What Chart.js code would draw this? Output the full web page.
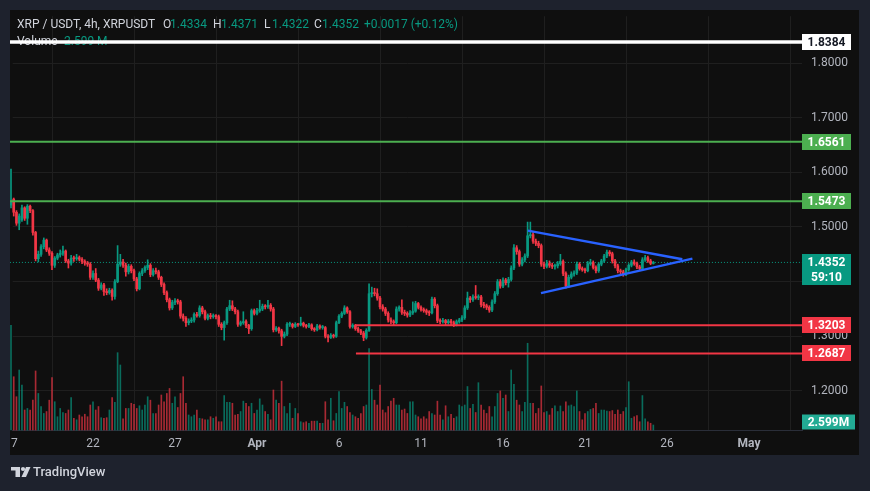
<!DOCTYPE html>
<html><head><meta charset="utf-8">
<script src="https://cdn.jsdelivr.net/npm/chart.js@4.4.1/dist/chart.umd.min.js"></script>
<style>html,body{margin:0;padding:0;background:#1e222d;overflow:hidden}canvas{display:block}</style>
</head><body><canvas id="c" width="870" height="491"></canvas>
<script>
// ---- data (XRP/USDT 4h candles, Mar 17 -> Apr 25) ----
const opens=[
1.540,1.551,1.527,1.507,1.513,1.535,1.516,1.538,1.530,1.490,
1.442,1.450,1.464,1.476,1.458,1.452,1.430,1.443,1.449,1.452,
1.456,1.438,1.434,1.443,1.442,1.444,1.441,1.437,1.434,1.432,
1.408,1.415,1.403,1.388,1.394,1.382,1.380,1.384,1.373,1.400,
1.432,1.436,1.430,1.418,1.428,1.420,1.405,1.387,1.415,1.420,
1.426,1.430,1.413,1.420,1.418,1.408,1.395,1.380,1.367,1.352,
1.362,1.365,1.363,1.337,1.333,1.325,1.328,1.330,1.340,1.338,
1.352,1.345,1.333,1.338,1.336,1.338,1.336,1.322,1.316,1.325,
1.350,1.356,1.350,1.345,1.322,1.325,1.327,1.320,1.314,1.347,
1.342,1.347,1.350,1.355,1.354,1.357,1.350,1.312,1.315,1.310,
1.300,1.304,1.322,1.322,1.318,1.322,1.321,1.324,1.320,1.318,
1.321,1.314,1.312,1.319,1.316,1.316,1.300,1.298,1.302,1.300,
1.325,1.337,1.342,1.352,1.345,1.318,1.320,1.314,1.310,1.306,
1.298,1.311,1.378,1.380,1.378,1.370,1.354,1.350,1.342,1.330,
1.327,1.325,1.350,1.353,1.344,1.342,1.339,1.343,1.346,1.360,
1.353,1.349,1.347,1.344,1.343,1.368,1.356,1.329,1.327,1.329,
1.325,1.328,1.325,1.322,1.327,1.330,1.334,1.352,1.370,1.367,
1.372,1.371,1.372,1.358,1.356,1.353,1.348,1.363,1.378,1.400,
1.392,1.403,1.398,1.404,1.425,1.462,1.455,1.432,1.440,1.447,
1.484,1.486,1.474,1.470,1.466,1.432,1.428,1.433,1.430,1.428,
1.429,1.433,1.437,1.415,1.392,1.408,1.414,1.416,1.432,1.424,
1.422,1.420,1.433,1.435,1.426,1.420,1.432,1.438,1.447,1.454,
1.451,1.438,1.429,1.420,1.418,1.414,1.422,1.430,1.436,1.433,
1.427,1.424,1.440,1.444,1.438,1.4334];
const highs=[
1.606,1.553,1.530,1.524,1.540,1.537,1.541,1.540,1.532,1.492,
1.456,1.468,1.480,1.478,1.462,1.455,1.446,1.452,1.458,1.465,
1.458,1.441,1.448,1.447,1.450,1.447,1.444,1.440,1.437,1.435,
1.420,1.424,1.406,1.398,1.397,1.387,1.388,1.387,1.404,1.466,
1.450,1.441,1.434,1.432,1.431,1.423,1.408,1.418,1.424,1.429,
1.440,1.433,1.424,1.425,1.421,1.410,1.398,1.383,1.370,1.366,
1.369,1.368,1.366,1.341,1.336,1.332,1.334,1.343,1.344,1.356,
1.355,1.348,1.341,1.342,1.341,1.340,1.339,1.325,1.328,1.353,
1.366,1.365,1.353,1.348,1.328,1.345,1.330,1.322,1.350,1.350,
1.351,1.366,1.359,1.358,1.366,1.360,1.353,1.318,1.317,1.313,
1.308,1.325,1.326,1.324,1.325,1.324,1.335,1.326,1.322,1.324,
1.323,1.316,1.322,1.321,1.320,1.318,1.303,1.305,1.304,1.328,
1.340,1.345,1.356,1.354,1.347,1.323,1.322,1.317,1.313,1.309,
1.314,1.396,1.390,1.388,1.387,1.373,1.358,1.353,1.345,1.334,
1.330,1.354,1.356,1.367,1.348,1.345,1.347,1.363,1.364,1.362,
1.356,1.352,1.350,1.347,1.372,1.371,1.359,1.332,1.333,1.331,
1.331,1.331,1.328,1.330,1.333,1.338,1.356,1.381,1.373,1.376,
1.393,1.376,1.375,1.362,1.359,1.356,1.367,1.382,1.404,1.404,
1.407,1.406,1.408,1.429,1.468,1.466,1.458,1.444,1.451,1.509,
1.509,1.490,1.478,1.474,1.469,1.436,1.439,1.438,1.434,1.432,
1.437,1.450,1.440,1.418,1.412,1.418,1.420,1.436,1.435,1.427,
1.425,1.437,1.441,1.438,1.429,1.435,1.441,1.450,1.458,1.457,
1.454,1.441,1.432,1.423,1.421,1.425,1.433,1.439,1.440,1.436,
1.430,1.444,1.448,1.447,1.441,1.4371];
const lows=[
1.535,1.520,1.503,1.495,1.510,1.512,1.505,1.526,1.485,1.438,
1.436,1.446,1.460,1.455,1.448,1.422,1.426,1.440,1.445,1.448,
1.435,1.425,1.430,1.437,1.439,1.438,1.433,1.430,1.428,1.404,
1.404,1.400,1.384,1.385,1.375,1.376,1.377,1.366,1.368,1.398,
1.428,1.426,1.410,1.414,1.416,1.402,1.383,1.385,1.411,1.417,
1.422,1.409,1.410,1.414,1.404,1.391,1.376,1.363,1.348,1.349,
1.358,1.359,1.333,1.328,1.318,1.321,1.325,1.326,1.335,1.335,
1.341,1.330,1.330,1.332,1.333,1.332,1.318,1.312,1.293,1.322,
1.347,1.347,1.341,1.318,1.319,1.322,1.316,1.305,1.311,1.339,
1.339,1.344,1.347,1.350,1.351,1.346,1.308,1.309,1.306,1.283,
1.297,1.301,1.318,1.315,1.316,1.318,1.319,1.317,1.315,1.316,
1.311,1.309,1.310,1.313,1.313,1.297,1.290,1.296,1.297,1.298,
1.323,1.334,1.340,1.342,1.315,1.315,1.311,1.307,1.303,1.292,
1.295,1.309,1.372,1.374,1.366,1.350,1.346,1.338,1.326,1.323,
1.321,1.323,1.346,1.340,1.338,1.335,1.336,1.340,1.344,1.350,
1.346,1.344,1.340,1.338,1.341,1.352,1.325,1.323,1.324,1.321,
1.322,1.321,1.318,1.319,1.324,1.327,1.331,1.349,1.362,1.364,
1.368,1.367,1.354,1.352,1.349,1.344,1.345,1.360,1.375,1.388,
1.389,1.394,1.390,1.401,1.422,1.450,1.428,1.429,1.436,1.444,
1.480,1.470,1.466,1.462,1.428,1.424,1.425,1.426,1.424,1.423,
1.425,1.430,1.411,1.388,1.389,1.405,1.410,1.413,1.421,1.419,
1.416,1.418,1.430,1.423,1.416,1.417,1.429,1.435,1.444,1.447,
1.434,1.425,1.416,1.414,1.410,1.411,1.419,1.427,1.430,1.424,
1.421,1.421,1.437,1.435,1.431,1.4322];
const closes=[
1.547,1.527,1.507,1.520,1.535,1.516,1.538,1.530,1.490,1.442,
1.450,1.464,1.476,1.458,1.452,1.430,1.443,1.449,1.452,1.456,
1.438,1.434,1.443,1.442,1.444,1.441,1.437,1.434,1.432,1.408,
1.415,1.403,1.388,1.394,1.382,1.380,1.384,1.373,1.400,1.432,
1.436,1.430,1.418,1.428,1.420,1.405,1.387,1.415,1.420,1.426,
1.430,1.413,1.420,1.418,1.408,1.395,1.380,1.367,1.352,1.362,
1.365,1.363,1.337,1.333,1.325,1.328,1.330,1.340,1.338,1.352,
1.345,1.333,1.338,1.336,1.338,1.336,1.322,1.316,1.325,1.350,
1.356,1.350,1.345,1.322,1.325,1.327,1.320,1.314,1.347,1.342,
1.347,1.350,1.355,1.354,1.357,1.350,1.312,1.315,1.310,1.300,
1.304,1.322,1.322,1.318,1.322,1.321,1.324,1.320,1.318,1.321,
1.314,1.312,1.319,1.316,1.316,1.300,1.298,1.302,1.300,1.325,
1.337,1.342,1.352,1.345,1.318,1.320,1.314,1.310,1.306,1.298,
1.311,1.378,1.380,1.378,1.370,1.354,1.350,1.342,1.330,1.327,
1.325,1.350,1.353,1.344,1.342,1.339,1.343,1.346,1.360,1.353,
1.349,1.347,1.344,1.343,1.368,1.356,1.329,1.327,1.329,1.325,
1.328,1.325,1.322,1.327,1.330,1.334,1.352,1.370,1.367,1.372,
1.371,1.372,1.358,1.356,1.353,1.348,1.363,1.378,1.400,1.392,
1.403,1.398,1.404,1.425,1.462,1.455,1.432,1.440,1.447,1.484,
1.486,1.474,1.470,1.466,1.432,1.428,1.433,1.430,1.428,1.429,
1.433,1.437,1.415,1.392,1.408,1.414,1.416,1.432,1.424,1.422,
1.420,1.433,1.435,1.426,1.420,1.432,1.438,1.447,1.454,1.451,
1.438,1.429,1.420,1.418,1.414,1.422,1.430,1.436,1.433,1.427,
1.424,1.440,1.444,1.438,1.4334,1.4352];
const volumes=[ // millions
54.4,27.7,17.3,31.2,23.4,10.4,11.2,10.4,15.5,30.7,
19.0,12.2,8.6,9.6,15.5,27.2,14.7,6.9,11.2,9.0,
8.6,10.4,16.8,6.1,5.3,7.8,6.9,8.2,6.9,13.0,
14.7,10.4,12.2,6.4,6.1,6.4,10.4,16.8,14.4,40.2,
33.8,5.8,11.2,11.2,13.9,13.3,11.2,12.6,10.4,13.0,
17.3,15.5,8.6,8.6,13.0,18.2,14.7,19.0,21.6,13.9,
17.3,11.7,19.0,27.7,13.9,7.8,6.9,7.8,10.4,6.1,
5.8,5.3,5.3,6.9,6.1,6.9,4.3,4.3,17.9,14.4,
14.4,13.9,7.8,8.2,9.6,15.0,13.9,12.2,13.9,8.6,
10.4,16.2,13.0,9.6,8.2,5.3,20.8,15.5,13.9,25.4,
12.2,8.6,13.9,6.1,11.2,8.6,4.3,3.8,4.3,3.5,
4.6,4.6,4.6,3.5,3.5,14.7,5.3,16.5,4.8,8.6,
20.0,11.2,14.4,12.2,9.1,7.8,6.9,6.1,8.6,12.2,
13.0,42.4,21.1,15.5,13.0,23.4,10.4,9.0,12.2,15.0,
16.5,13.0,13.0,10.4,10.9,8.6,14.7,14.7,7.8,6.9,
5.8,6.9,5.8,9.6,8.6,7.8,15.0,7.8,5.3,12.6,
6.9,8.2,6.1,6.9,13.0,12.2,13.0,22.6,11.2,13.3,
9.1,24.6,13.0,10.4,8.6,12.2,6.9,12.2,19.0,20.3,
16.5,18.2,9.6,31.2,23.7,15.5,13.0,9.6,14.4,45.1,
13.9,13.9,8.6,11.2,22.9,9.1,9.6,7.8,11.2,12.6,
9.6,12.5,9.6,14.7,12.6,13.0,12.2,20.3,9.6,5.3,
8.6,9.6,10.7,11.2,13.9,8.6,10.4,10.4,9.9,9.6,
10.1,8.2,10.4,8.2,9.6,11.7,25.1,6.1,6.9,7.5,
4.3,17.9,5.8,4.3,3.5,2.599];
// time axis: candle index of each day label (6 candles per day)
const tickIdx=[0,30,60,90,120,150,180,210,240,270];
const tickLabels=['17','22','27','Apr','6','11','16','21','26','May'];
const priceTicks=[1.2,1.3,1.4,1.5,1.6,1.7,1.8];
// horizontal levels: price, start candle index
const levelPrices=[1.8384,1.6561,1.5473,1.3203,1.2687];
const levelStart=[-0.4,-0.4,-0.4,126.2,126.2];
// triangle trend lines: [candle index, price]
const triUpper=[[189.1,1.4934],[245.6,1.4411]];
const triLower=[[193.9,1.3790],[249.3,1.4422]];
const lastPrice=1.4352, countdown='59:10', lastVolLabel='2.599M';

// ---- styles / layout ----
const UP='#089981', DN='#f23645', FRAME='#1e222d', PANEL='#0f0f0f';
const levelColors=['#ffffff','#4caf50','#4caf50','#f23645','#f23645'];
const levelWidths=[3.5,2,2,2,2];
const levelText=['#131722','#ffffff','#ffffff','#ffffff','#ffffff'];
const xMin=-0.4, xMax=289.4, yMin=1.1328, yMax=1.8969;
const FONT='Roboto, "Noto Sans", sans-serif';
// pixel calibration of the reference (1.8 -> y63, 1.2 -> y391 ; index0 -> x11, index270 -> x749)
const CAL={pTop:1.8,pTopY:63,pBot:1.2,pBotY:391,i0:0,i0X:11,i1:270,i1X:749,volPerPx:0.52};

const idx=closes.map((_,i)=>i);
const isUp=idx.map(i=>closes[i]>=opens[i]);
const candleCol=isUp.map(u=>u?UP:DN);
const volCol=isUp.map(u=>u?'rgba(8,153,129,0.68)':'rgba(242,54,69,0.68)');

const datasets=[];
datasets.push({type:'bar',label:'vol',yAxisID:'yv',data:idx.map(i=>({x:i,y:volumes[i]})),
  backgroundColor:volCol,barThickness:1,grouped:false,order:20,clip:false});
datasets.push({type:'line',label:'last',yAxisID:'y',data:[{x:xMin,y:lastPrice},{x:xMax,y:lastPrice}],
  borderColor:UP,borderWidth:1,borderDash:[1,2],pointRadius:0,fill:false,order:15,clip:false});
datasets.push({type:'bar',label:'wick',yAxisID:'y',data:idx.map(i=>({x:i,y:[lows[i],highs[i]]})),
  backgroundColor:candleCol,barThickness:1,grouped:false,order:10,clip:false});
datasets.push({type:'bar',label:'body',yAxisID:'y',data:idx.map(i=>({x:i,y:[opens[i],closes[i]]})),
  backgroundColor:candleCol,barThickness:2,minBarLength:1,grouped:false,order:9,clip:false});
levelPrices.forEach((p,k)=>{
  datasets.push({type:'line',label:'lvl'+k,yAxisID:'y',data:[{x:levelStart[k],y:p},{x:xMax,y:p}],
    borderColor:levelColors[k],borderWidth:levelWidths[k],pointRadius:0,fill:false,order:3,clip:false});
});
[triUpper,triLower].forEach((t,k)=>{
  datasets.push({type:'line',label:'tri'+k,yAxisID:'y',data:t.map(q=>({x:q[0],y:q[1]})),
    borderColor:'#2962ff',borderWidth:2.5,pointRadius:0,fill:false,order:1,clip:false});
});

function txt(c,s,x,y,col,font,align){c.fillStyle=col;c.font=font;c.textAlign=align||'left';c.textBaseline='middle';c.fillText(s,x,y);}

const calib={
  id:'calib',
  afterLayout(chart){
    const a=chart.chartArea, ys=chart.scales.y, xs=chart.scales.x, vs=chart.scales.yv;
    const ppp=(CAL.pTop-CAL.pBot)/(CAL.pBotY-CAL.pTopY);
    ys.max=CAL.pTop+(CAL.pTopY-a.top)*ppp;
    ys.min=CAL.pTop-(a.bottom-CAL.pTopY)*ppp;
    ys.configure();
    const ppx=(CAL.i1X-CAL.i0X)/(CAL.i1-CAL.i0);
    xs.min=CAL.i0-(CAL.i0X-a.left)/ppx;
    xs.max=CAL.i1+(a.right-CAL.i1X)/ppx;
    xs.configure();
    vs.min=0; vs.max=(a.bottom-a.top)*CAL.volPerPx;
    vs.configure();
  }
};

const deco={
  id:'deco',
  beforeDraw(chart){const c=chart.ctx;c.save();c.fillStyle=FRAME;c.fillRect(0,0,870,491);
    c.fillStyle=PANEL;c.fillRect(10,10,849,445);c.restore();},
  beforeDatasetsDraw(chart){const c=chart.ctx;c.save();
    const f='12px '+FONT, g='#d1d4dc';
    txt(c,'XRP / USDT, 4h, XRPUSDT',17,25,g,f);
    txt(c,'O',163,25,g,f);txt(c,opens[opens.length-1].toFixed(4),170,25,UP,f);
    txt(c,'H',213,25,g,f);txt(c,highs[highs.length-1].toFixed(4),221,25,UP,f);
    txt(c,'L',264,25,g,f);txt(c,lows[lows.length-1].toFixed(4),272,25,UP,f);
    txt(c,'C',314,25,g,f);txt(c,closes[closes.length-1].toFixed(4),322,25,UP,f);
    txt(c,'+0.0017 (+0.12%)',364,25,UP,f);
    txt(c,'Volume',17,42,g,f);txt(c,'2.599 M',64,42,UP,f);
    c.restore();},
  afterDraw(chart){const c=chart.ctx, y=chart.scales.y, yv=chart.scales.yv;c.save();
    const bf='bold 12px '+FONT;
    levelPrices.forEach((p,k)=>{const py=Math.round(y.getPixelForValue(p));
      c.fillStyle=levelColors[k];c.fillRect(802,py-8,49,16);
      txt(c,p.toFixed(4),826.5,py+0.5,levelText[k],bf,'center');});
    const ly=Math.round(y.getPixelForValue(lastPrice));
    c.fillStyle=UP;c.fillRect(802,ly-8,49,31);
    txt(c,lastPrice.toFixed(4),826.5,ly+0.5,'#ffffff',bf,'center');
    txt(c,countdown,826.5,ly+15.5,'#ffffff',bf,'center');
    const vy=Math.min(yv.getPixelForValue(volumes[volumes.length-1]),chart.chartArea.bottom-8);
    c.fillStyle='#22ab94';c.fillRect(802,vy-7.5,53,15);
    txt(c,lastVolLabel,828.5,vy+0.5,'#ffffff',bf,'center');
    // outer frame
    c.fillStyle=FRAME;c.fillRect(0,0,10,491);c.fillRect(859,0,11,491);c.fillRect(0,0,870,10);c.fillRect(0,455,870,36);
    // TradingView logo
    c.fillStyle='#d1d4dc';
    c.fillRect(11,467,9,3.5);c.fillRect(15.5,467,4.5,10);
    c.beginPath();c.arc(23,469,2.1,0,Math.PI*2);c.fill();
    c.beginPath();c.moveTo(26,467);c.lineTo(30.5,467);c.lineTo(26,477);c.lineTo(21.5,477);c.closePath();c.fill();
    txt(c,'TradingView',33,473,'#d1d4dc','500 13px '+FONT);
    c.restore();}
};

new Chart(document.getElementById('c'),{
  type:'bar',
  data:{datasets},
  options:{
    responsive:false,animation:false,devicePixelRatio:1,
    layout:{padding:{left:10,top:10,right:11,bottom:34}},
    plugins:{legend:{display:false},tooltip:{enabled:false}},
    scales:{
      x:{type:'linear',min:xMin,max:xMax,offset:false,
        afterBuildTicks:s=>{s.ticks=tickIdx.map(v=>({value:v}));},
        afterFit:s=>{s.height=27;},
        ticks:{autoSkip:false,maxRotation:0,padding:7,color:'#b2b5be',
          font:ctx=>({family:FONT,size:12,weight:(tickLabels[ctx.index]==='Apr'||tickLabels[ctx.index]==='May')?'bold':'normal'}),
          callback:(v,i)=>tickLabels[i]},
        grid:{color:'#1f1f1f',drawTicks:false},border:{color:'#2a2e39'}},
      y:{type:'linear',position:'right',min:yMin,max:yMax,
        afterBuildTicks:s=>{s.ticks=priceTicks.map(v=>({value:v}));},
        afterFit:s=>{s.width=57;},
        ticks:{padding:9,color:'#b2b5be',font:{family:FONT,size:12},callback:v=>Number(v).toFixed(4)},
        grid:{color:'#1f1f1f',drawTicks:false},border:{display:false}},
      yv:{type:'linear',display:false,min:0,max:217}
    }
  },
  plugins:[calib,deco]
});
</script></body></html>
